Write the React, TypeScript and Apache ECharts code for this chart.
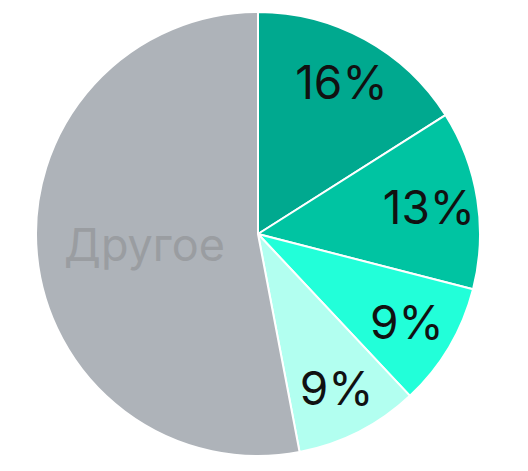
import React, { useEffect, useRef } from "react";
import * as echarts from "echarts";

const names = ["A", "B", "C", "D", "Другое"];
const values = [16, 13, 9, 9, 53];
const colors = ["#00a98f", "#00c4a2", "#22ffd9", "#b2fff0", "#aeb3b9"];

export default function App() {
  const ref = useRef<HTMLDivElement>(null);
  useEffect(() => {
    document.body.style.margin = "0";
    const chart = echarts.init(ref.current!, null, { renderer: "svg" });
    const base = names.map((n, i) => ({ name: n, value: values[i], itemStyle: { color: colors[i] } }));
    chart.setOption({
      animation: false,
      series: [
        {
          type: "pie",
          center: [258, 234],
          radius: [0, 222],
          startAngle: 90,
          clockwise: true,
          silent: true,
          itemStyle: { borderColor: "#ffffff", borderWidth: 2 },
          label: {
            show: true,
            position: "inside",
            formatter: (p: any) => (p.name === "Другое" ? p.name : ""),
            fontFamily: "Inter, 'Noto Sans', sans-serif",
            fontSize: 45,
            color: "#9a9da1",
          },
          labelLine: { show: false },
          data: base,
        },
        {
          type: "pie",
          center: [258, 234],
          radius: [118, 222],
          startAngle: 90,
          clockwise: true,
          silent: true,
          itemStyle: { color: "transparent", borderWidth: 0 },
          label: {
            show: true,
            position: "inside",
            formatter: (p: any) => (p.name === "Другое" ? "" : p.value + "%"),
            fontFamily: "Inter, 'Noto Sans', sans-serif",
            fontSize: 46,
            color: "#111111",
          },
          labelLine: { show: false },
          data: names.map((n, i) => ({ name: n, value: values[i], itemStyle: { color: "transparent" } })),
        },
      ],
    });
    return () => chart.dispose();
  }, []);
  return <div ref={ref} style={{ width: 528, height: 471 }} />;
}
